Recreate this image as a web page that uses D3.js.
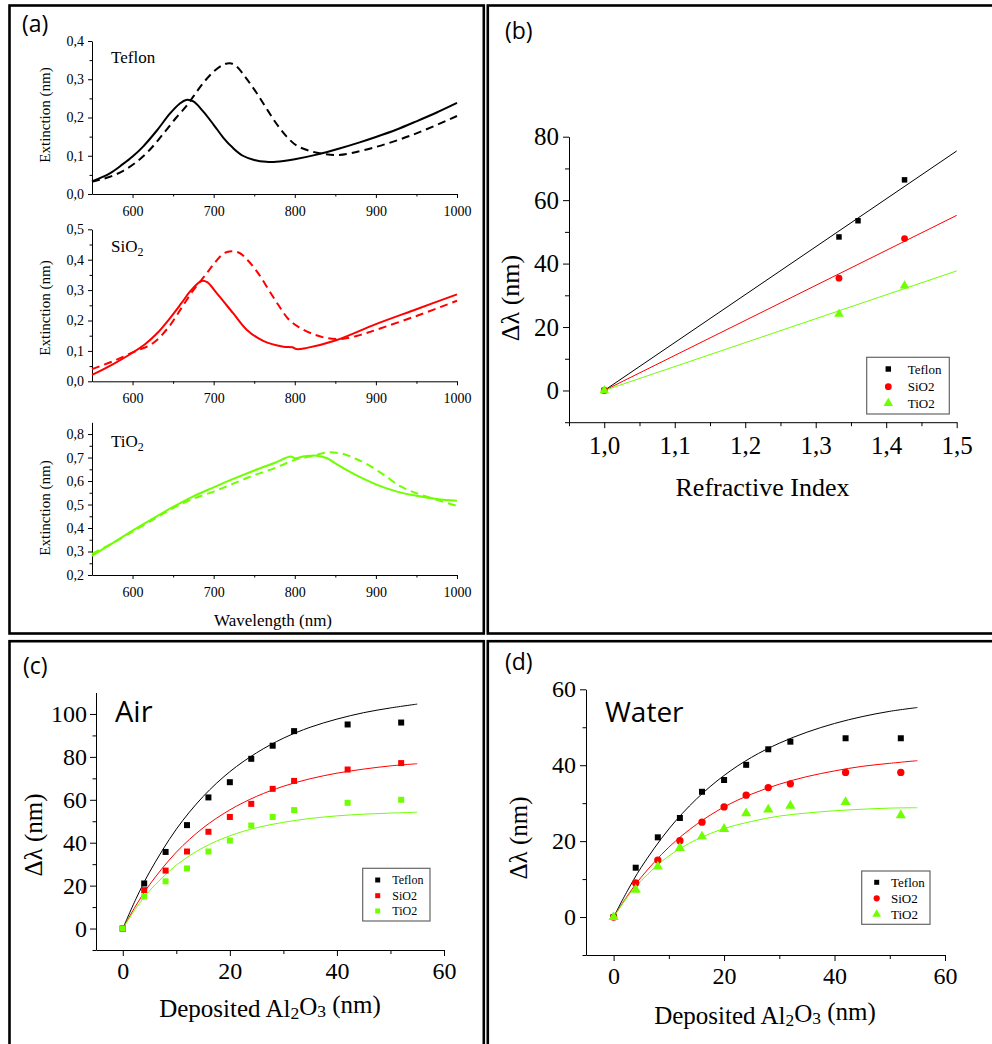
<!DOCTYPE html>
<html><head><meta charset="utf-8">
<script src="https://cdn.jsdelivr.net/npm/d3@7"></script>
<style>
body{margin:0;background:#fff;}
svg{display:block;}
</style></head><body>
<svg id="fig" width="992" height="1044"></svg>
<script>
// ---------------- DATA ----------------
// Panel (a): extinction spectra (solid = bare, dashed = coated)
const tefSolidX = [550,572,588,600,613,630,646,658,666,675,687,700,712,724,736,750,765,777,800,827,855,880,900,925,950,975,1000];
const tefSolidY = [0.033,0.054,0.078,0.098,0.124,0.166,0.210,0.236,0.246,0.242,0.216,0.181,0.147,0.120,0.100,0.089,0.084,0.084,0.091,0.103,0.119,0.135,0.149,0.168,0.190,0.213,0.238];
const tefDashX = [550,572,588,605,621,638,654,666,675,687,700,712,720,728,740,753,765,777,790,802,818,835,853,870,900,930,960,1000];
const tefDashY = [0.032,0.045,0.060,0.084,0.115,0.158,0.200,0.229,0.255,0.290,0.320,0.338,0.342,0.334,0.303,0.264,0.224,0.185,0.150,0.127,0.113,0.105,0.102,0.107,0.123,0.143,0.167,0.204];

const sioSolidX = [550,575,600,615,630,645,660,672,685,692,704,724,741,761,786,797,802,815,850,900,950,1000];
const sioSolidY = [0.021,0.055,0.094,0.121,0.157,0.204,0.256,0.299,0.330,0.326,0.289,0.224,0.169,0.133,0.114,0.112,0.106,0.110,0.134,0.188,0.237,0.286];
const sioDashX = [550,575,600,625,645,660,675,690,700,712,722,732,742,755,768,780,792,805,820,840,860,880,900,950,1000];
const sioDashY = [0.040,0.065,0.095,0.125,0.180,0.240,0.300,0.350,0.385,0.420,0.428,0.422,0.398,0.355,0.300,0.250,0.205,0.178,0.158,0.142,0.140,0.152,0.169,0.215,0.265];

const tioSolidX = [550,575,600,625,650,675,700,725,750,775,795,800,812,825,840,850,875,900,925,950,975,1000];
const tioSolidY = [0.281,0.335,0.389,0.440,0.490,0.535,0.573,0.610,0.645,0.677,0.704,0.697,0.705,0.709,0.697,0.675,0.626,0.586,0.556,0.537,0.524,0.516];
const tioDashX = [550,575,600,625,650,675,700,725,750,775,800,820,840,860,875,890,910,930,950,975,1000];
const tioDashY = [0.290,0.335,0.385,0.435,0.485,0.525,0.555,0.590,0.625,0.655,0.690,0.705,0.722,0.715,0.695,0.670,0.626,0.578,0.548,0.520,0.494];

// Panel (b): shift vs refractive index
const bTeflonN = [1.0, 1.333, 1.36, 1.426];
const bTeflon  = [0, 48.4, 53.5, 66.4];
const bOxideN  = [1.0, 1.333, 1.426];
const bSiO2    = [0, 35.4, 47.9];
const bTiO2    = [0, 24.1, 33.0];
const bFitN       = [1.0, 1.5];
const bFitTeflon  = [0, 75.5];
const bFitSiO2    = [0, 55.2];
const bFitTiO2    = [0, 37.7];

// Panels (c),(d): shift vs deposited Al2O3
const deposit  = [0, 4, 8, 12, 16, 20, 24, 28, 32, 42, 52];
const cTeflon  = [0, 21, 35.7, 48.2, 61.1, 68.2, 79.1, 85.2, 92, 95.1, 96];
const cSiO2    = [0, 17.9, 27, 35.9, 45.1, 52, 58.1, 65.1, 68.8, 74.1, 77.1];
const cTiO2    = [0, 14.9, 22, 28, 35.9, 41, 48, 52, 55.2, 58.6, 60];
const dTeflon  = [0, 13, 21, 26.1, 33, 36.1, 40.1, 44.2, 46.2, 47.1, 47.1];
const dSiO2    = [0, 9, 15, 20.1, 25, 29, 32.1, 34.1, 35.1, 38.1, 38.1];
const dTiO2    = [0, 7.2, 13.3, 18.2, 21.2, 23.2, 27.3, 28.3, 29.3, 30.3, 26.8];

const fitX        = [0, 2.5, 5, 10, 15, 20, 25, 30, 35, 40, 45, 50, 55];
const cFitTeflon  = [0, 14.0, 26.3, 46.3, 61.5, 73.1, 81.9, 88.7, 93.8, 97.6, 100.6, 102.8, 104.6];
const cFitSiO2    = [0, 10.9, 20.4, 35.6, 46.9, 55.3, 61.6, 66.3, 69.8, 72.4, 74.3, 75.8, 76.8];
const cFitTiO2    = [0, 9.6, 17.6, 29.5, 37.7, 43.2, 47.0, 49.5, 51.3, 52.5, 53.3, 53.8, 54.2];
const dFitTeflon  = [0, 6.9, 13.1, 23.2, 31.1, 37.3, 42.1, 45.8, 48.7, 51.0, 52.8, 54.2, 55.2];
const dFitSiO2    = [0, 5.6, 10.5, 18.4, 24.4, 29.0, 32.4, 35.0, 37.0, 38.5, 39.7, 40.5, 41.2];
const dFitTiO2    = [0, 5.3, 9.6, 16.1, 20.4, 23.3, 25.2, 26.6, 27.4, 28.0, 28.4, 28.7, 28.8];

const seriesNames = ["Teflon", "SiO2", "TiO2"];

// Tick labels
const aXTicks = [600, 700, 800, 900, 1000];
const aXMinor = [650, 750, 850, 950];
const bXTicks = [1.0, 1.1, 1.2, 1.3, 1.4, 1.5];
const bXMinor = [0.95, 1.05, 1.15, 1.25, 1.35, 1.45];
const bYTicks = [0, 20, 40, 60, 80];
const bYMinor = [-10, 10, 30, 50, 70];
const cdXTicks = [0, 20, 40, 60];
const cdXMinor = [10, 30, 50];
const cYTicks = [0, 20, 40, 60, 80, 100];
const cYMinor = [-10, 10, 30, 50, 70, 90];
const dYTicks = [0, 20, 40, 60];
const dYMinor = [-10, 10, 30, 50];

// ---------------- DRAWING ----------------
const SERIF = "'Liberation Serif','Times New Roman',serif";
const SANS = "'Open Sans','Noto Sans',sans-serif";
const BLACK = "#000000", RED = "#ff0000", GREEN = "#70ff00";
const colors = [BLACK, RED, GREEN];
const comma1 = d => d3.format(".1f")(d).replace(".", ",");

const svg = d3.select("#fig");
svg.append("rect").attr("width", 992).attr("height", 1044).attr("fill", "#fff");

// panel frames
[[9.5, 5.5, 474.3, 628], [487.8, 5.5, 520, 628], [9.5, 641.2, 474.3, 420], [487.8, 641.2, 520, 420]]
  .forEach(r => svg.append("rect").attr("x", r[0]).attr("y", r[1]).attr("width", r[2]).attr("height", r[3])
    .attr("fill", "none").attr("stroke", "#000").attr("stroke-width", 2.6));

function addAxis(o) {
  const make = o.orient === "bottom" ? d3.axisBottom : d3.axisLeft;
  const tr = o.orient === "bottom" ? `translate(0,${o.pos})` : `translate(${o.pos},0)`;
  const g = svg.append("g").attr("transform", tr);
  g.call(make(o.scale).tickValues(o.major).tickSize(o.majorLen).tickSizeOuter(0)
    .tickPadding(o.pad).tickFormat(o.fmt || (d => d)));
  g.attr("font-family", SERIF).attr("font-size", o.fs);
  g.selectAll("text").attr("font-family", SERIF).style("font-family", SERIF)
    .attr("font-size", o.fs).attr("fill", "#000");
  g.selectAll("path,line").attr("stroke", "#000").attr("stroke-width", 1);
  if (o.minor) {
    const g2 = svg.append("g").attr("transform", tr);
    g2.call(make(o.scale).tickValues(o.minor).tickSize(o.minorLen).tickFormat(""));
    g2.select(".domain").remove();
    g2.selectAll("line").attr("stroke", "#000").attr("stroke-width", 1);
  }
}

function text(x, y, str, fs, family, opts = {}) {
  const t = svg.append("text").attr("x", x).attr("y", y).attr("font-size", fs)
    .attr("font-family", family).style("font-family", family).attr("fill", "#000")
    .attr("text-anchor", opts.anchor || "start");
  if (str) t.text(str);
  if (opts.baseline) t.attr("dominant-baseline", opts.baseline);
  if (opts.rotate) t.attr("transform", `rotate(-90,${x},${y})`);
  return t;
}
// append pieces: [str, isSub]
function pieces(t, parts) {
  let sub = false;
  parts.forEach(p => {
    const s = t.append("tspan").text(p[0]);
    if (p[1] && !sub) { s.attr("dy", "0.3em").attr("font-size", "70%"); sub = true; }
    else if (p[1]) { s.attr("font-size", "70%"); }
    else if (!p[1] && sub) { s.attr("dy", "-0.3em"); sub = false; }
  });
}

function line(xs, ys, x, y, color, width, dash) {
  const pts = xs.map((v, i) => [v, ys[i]]);
  const p = svg.append("path").datum(pts)
    .attr("d", d3.line().x(d => x(d[0])).y(d => y(d[1])).curve(d3.curveCatmullRom.alpha(0.5)))
    .attr("fill", "none").attr("stroke", color).attr("stroke-width", width);
  if (dash) p.attr("stroke-dasharray", dash);
}

function markers(xs, ys, x, y, color, type, size) {
  const sym = d3.symbol().type(type).size(size);
  xs.forEach((v, i) => {
    svg.append("path").attr("d", sym())
      .attr("transform", `translate(${x(v)},${y(ys[i])})`).attr("fill", color);
  });
}

function legend(box, rows, mx, tx, fs, types, sizes) {
  svg.append("rect").attr("x", box[0]).attr("y", box[1]).attr("width", box[2] - box[0]).attr("height", box[3] - box[1])
    .attr("fill", "#fff").attr("stroke", "#666").attr("stroke-width", 1.2);
  seriesNames.forEach((n, i) => {
    svg.append("path").attr("d", d3.symbol().type(types[i]).size(sizes[i])())
      .attr("transform", `translate(${mx},${rows[i]})`).attr("fill", colors[i]);
    text(tx, rows[i], n, fs, SERIF, { baseline: "central" });
  });
}

// ---------- Panel (a) ----------
const ax = d3.scaleLinear().domain([550, 1000]).range([92, 457]);
const aSub = [
  { y: d3.scaleLinear().domain([0, 0.4]).range([194, 41]), major: [0, 0.1, 0.2, 0.3, 0.4],
    minor: [0.05, 0.15, 0.25, 0.35], label: ["Teflon"], ly: 63, ylab: 115,
    sx: tefSolidX, sy: tefSolidY, dx: tefDashX, dy: tefDashY, c: BLACK },
  { y: d3.scaleLinear().domain([0, 0.5]).range([381.3, 229.3]), major: [0, 0.1, 0.2, 0.3, 0.4, 0.5],
    minor: [0.05, 0.15, 0.25, 0.35, 0.45], label: ["SiO", "2"], ly: 252, ylab: 308,
    sx: sioSolidX, sy: sioSolidY, dx: sioDashX, dy: sioDashY, c: RED },
  { y: d3.scaleLinear().domain([0.2, 0.85]).range([575, 422.3]), major: [0.2, 0.3, 0.4, 0.5, 0.6, 0.7, 0.8],
    minor: [0.25, 0.35, 0.45, 0.55, 0.65, 0.75], label: ["TiO", "2"], ly: 447, ylab: 508,
    sx: tioSolidX, sy: tioSolidY, dx: tioDashX, dy: tioDashY, c: GREEN }
];
aSub.forEach(s => {
  addAxis({ orient: "bottom", scale: ax, pos: s.y.range()[0], major: aXTicks, minor: aXMinor,
    majorLen: 4, minorLen: 2.5, pad: 8, fs: 14 });
  addAxis({ orient: "left", scale: s.y, pos: 92, major: s.major, minor: s.minor,
    majorLen: 4, minorLen: 2.5, pad: 4, fs: 14, fmt: comma1 });
  line(s.dx, s.dy, ax, s.y, s.c, 2, "8,5");
  line(s.sx, s.sy, ax, s.y, s.c, 2);
  const t = text(111, s.ly, "", 17, SERIF);
  if (s.label.length === 1) t.text(s.label[0]);
  else pieces(t, [[s.label[0], false], [s.label[1], true]]);
  text(45, s.ylab, "Extinction (nm)", 15, SERIF, { anchor: "middle", baseline: "central", rotate: true });
});
text(273, 620, "Wavelength (nm)", 17, SERIF, { anchor: "middle", baseline: "central" });
text(22, 32, "(a)", 23, SANS);

// ---------- Panel (b) ----------
const bx = d3.scaleLinear().domain([0.95, 1.5]).range([569, 956.7]);
const by = d3.scaleLinear().domain([-10, 80]).range([422.2, 136.7]);
addAxis({ orient: "bottom", scale: bx, pos: 422.2, major: bXTicks, minor: bXMinor, majorLen: 6, minorLen: 4, pad: 8, fs: 25, fmt: comma1 });
addAxis({ orient: "left", scale: by, pos: 569, major: bYTicks, minor: bYMinor, majorLen: 6, minorLen: 4, pad: 4, fs: 25 });
line(bFitN, bFitTeflon, bx, by, BLACK, 1);
line(bFitN, bFitSiO2, bx, by, RED, 1);
line(bFitN, bFitTiO2, bx, by, GREEN, 1);
markers(bTeflonN, bTeflon, bx, by, BLACK, d3.symbolSquare, 30);
markers(bOxideN, bSiO2, bx, by, RED, d3.symbolCircle, 36);
markers(bOxideN, bTiO2, bx, by, GREEN, d3.symbolTriangle, 40);
legend([866.7, 357.3, 949.3, 414], [369, 386.7, 403.3], 888.3, 907.7, 13,
  [d3.symbolSquare, d3.symbolCircle, d3.symbolTriangle], [30, 36, 40]);
text(762.5, 487, "Refractive Index", 26, SERIF, { anchor: "middle", baseline: "central" });
text(510, 298, "Δλ (nm)", 26, SERIF, { anchor: "middle", baseline: "central", rotate: true });
text(505, 39, "(b)", 23, SANS);

// ---------- Panel (c) ----------
const cx = d3.scaleLinear().domain([-5, 60]).range([96, 444]);
const cy = d3.scaleLinear().domain([-10, 110]).range([950, 692.5]);
addAxis({ orient: "bottom", scale: cx, pos: 950, major: cdXTicks, minor: cdXMinor, majorLen: 6, minorLen: 4, pad: 6, fs: 24 });
addAxis({ orient: "left", scale: cy, pos: 96, major: cYTicks, minor: cYMinor, majorLen: 6, minorLen: 3.5, pad: 3, fs: 24 });
line(fitX, cFitTeflon, cx, cy, BLACK, 1);
line(fitX, cFitSiO2, cx, cy, RED, 1);
line(fitX, cFitTiO2, cx, cy, GREEN, 1);
markers(deposit, cTeflon, cx, cy, BLACK, d3.symbolSquare, 36);
markers(deposit, cSiO2, cx, cy, RED, d3.symbolSquare, 36);
markers(deposit, cTiO2, cx, cy, GREEN, d3.symbolSquare, 36);
legend([362.7, 868.3, 430, 921], [880, 895.7, 911], 377.7, 392.3, 12,
  [d3.symbolSquare, d3.symbolSquare, d3.symbolSquare], [25, 25, 25]);
pieces(text(270, 1008, "", 25, SERIF, { anchor: "middle", baseline: "central" }),
  [["Deposited Al", false], ["2", true], ["O", false], ["3", true], [" (nm)", false]]);
text(33, 835, "Δλ (nm)", 25, SERIF, { anchor: "middle", baseline: "central", rotate: true });
text(115, 722, "Air", 29, SANS);
text(23, 674, "(c)", 23, SANS);

// ---------- Panel (d) ----------
const dx = d3.scaleLinear().domain([-5, 60]).range([586, 945]);
const dy = d3.scaleLinear().domain([-10, 60]).range([955, 689.3]);
addAxis({ orient: "bottom", scale: dx, pos: 955, major: cdXTicks, minor: cdXMinor, majorLen: 6, minorLen: 4, pad: 6, fs: 24 });
addAxis({ orient: "left", scale: dy, pos: 586, major: dYTicks, minor: dYMinor, majorLen: 6, minorLen: 3.5, pad: 4, fs: 24 });
line(fitX, dFitTeflon, dx, dy, BLACK, 1);
line(fitX, dFitSiO2, dx, dy, RED, 1);
line(fitX, dFitTiO2, dx, dy, GREEN, 1);
markers(deposit, dTeflon, dx, dy, BLACK, d3.symbolSquare, 36);
markers(deposit, dSiO2, dx, dy, RED, d3.symbolCircle, 42);
markers(deposit, dTiO2, dx, dy, GREEN, d3.symbolTriangle, 45);
legend([861.7, 871, 930, 924.3], [882.3, 898.3, 914.3], 876.7, 891, 13,
  [d3.symbolSquare, d3.symbolCircle, d3.symbolTriangle], [25, 30, 32]);
pieces(text(765, 1015, "", 25, SERIF, { anchor: "middle", baseline: "central" }),
  [["Deposited Al", false], ["2", true], ["O", false], ["3", true], [" (nm)", false]]);
text(518, 838, "Δλ (nm)", 25, SERIF, { anchor: "middle", baseline: "central", rotate: true });
text(605, 722, "Water", 28, SANS);
text(505, 670, "(d)", 23, SANS);
</script></body></html>
